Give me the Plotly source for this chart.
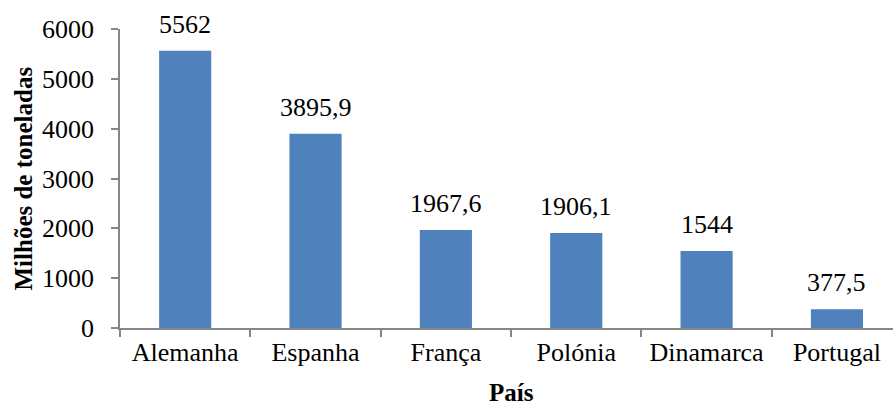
import plotly.graph_objects as go

paises = ["Alemanha", "Espanha", "França", "Polónia", "Dinamarca", "Portugal"]
valores = [5562, 3895.9, 1967.6, 1906.1, 1544, 377.5]
rotulos = ["5562", "3895,9", "1967,6", "1906,1", "1544", "377,5"]
y_ticks = [0, 1000, 2000, 3000, 4000, 5000, 6000]

FONT = "Liberation Serif"
AXIS_COLOR = "#868686"
W, H = 893, 408
ML, MT, MB = 120, 29, 80

fig = go.Figure()
fig.add_trace(go.Bar(
    x=paises, y=valores, width=0.4,
    marker=dict(color="#4F81BD", line=dict(width=0)),
    hoverinfo="skip",
))

for p, v, t in zip(paises, valores, rotulos):
    fig.add_annotation(x=p, y=v, text=t, showarrow=False, yanchor="bottom",
                       yshift=10, font=dict(family=FONT, size=26, color="black"))

plot_w = W - ML
fig.add_annotation(xref="paper", yref="paper", x=(511 - ML) / plot_w, y=0, yshift=-(MB - 1),
                   text="<b>País</b>", showarrow=False, xanchor="center", yanchor="bottom",
                   borderpad=0, font=dict(family=FONT, size=25, color="black"))
fig.add_annotation(xref="paper", yref="paper", x=(23 - ML) / plot_w, y=0.5,
                   text="<b>Milhões de toneladas</b>", showarrow=False, textangle=-90,
                   xanchor="center", yanchor="middle",
                   font=dict(family=FONT, size=25, color="black"))

fig.update_layout(
    width=W, height=H,
    margin=dict(l=ML, r=0, t=MT, b=MB, autoexpand=False),
    plot_bgcolor="white", paper_bgcolor="white",
    showlegend=False,
    font=dict(family=FONT, size=26, color="black"),
    bargap=0.6,
)
fig.update_xaxes(
    type="category", range=[-0.5, 5.43], automargin=False,
    showline=True, linecolor=AXIS_COLOR, linewidth=1.5,
    ticks="outside", tickson="boundaries", ticklen=7, tickcolor=AXIS_COLOR, tickwidth=1.5,
    showgrid=False, zeroline=False,
    tickfont=dict(family=FONT, size=26, color="black"),
)
fig.update_yaxes(
    range=[0, 6000], tickvals=y_ticks, ticktext=[str(v) for v in y_ticks], automargin=False,
    showline=True, linecolor=AXIS_COLOR, linewidth=1.5,
    ticks="outside", ticklen=7, tickcolor=AXIS_COLOR, tickwidth=1.5,
    showgrid=False, zeroline=False,
    tickfont=dict(family=FONT, size=26, color="black"),
    ticklabelstandoff=12,
)

fig.write_html("out.html", config={"displayModeBar": False},
               post_script="document.body.style.margin='0';")
